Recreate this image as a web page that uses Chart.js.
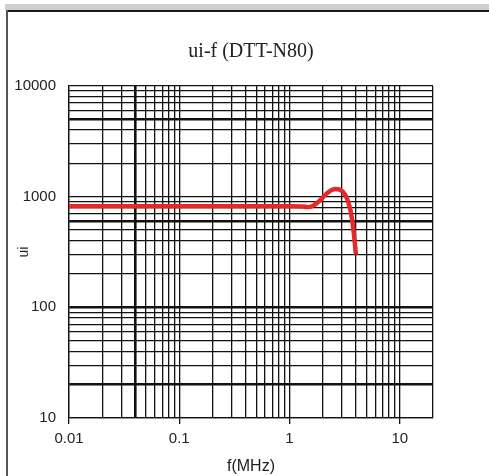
<!DOCTYPE html>
<html>
<head>
<meta charset="utf-8">
<script src="https://cdn.jsdelivr.net/npm/chart.js@4/dist/chart.umd.min.js"></script>
<style>
	html, body { margin: 0; padding: 0; background: #fff; }
	#wrap { position: relative; width: 489px; height: 476px; overflow: hidden; }
	#topBar { position: absolute; left: 5px; top: 4px; width: 484px; height: 6px; background: #cfcfcf; }
	#topLine { position: absolute; left: 6px; top: 10px; width: 483px; height: 2px; background: #1a1a1a; }
	#leftLine { position: absolute; left: 6px; top: 10px; width: 2px; height: 466px; background: #555; }
	canvas { position: absolute; left: 0; top: 0; }
</style>
</head>
<body>
<div id="wrap">
	<canvas id="myChart" width="489" height="476"></canvas>
	<div id="topBar"></div>
	<div id="topLine"></div>
	<div id="leftLine"></div>
</div>
<script>
/* ui-f (DTT-N80) */
var freqMHz = [0.01, 0.1, 1, 1.3, 1.5, 1.7, 1.9, 2.2, 2.6, 2.9, 3.2, 3.4, 3.6, 3.8, 4.0];
var uiValue = [820, 820, 820, 815, 805, 850, 930, 1080, 1170, 1150, 1040, 900, 720, 500, 300];

var xLabels = [0.01, 0.1, 1, 10];
var yLabels = [10, 100, 1000, 10000];
var xHeavy = [0.04];
var yHeavy = [20, 100, 600, 5000];

// 로그 눈금선 (1~9 x 10^n)
function logGrid(from, to) {
	var list = [];
	for (var d = from; d < to; d *= 10) {
		for (var k = 1; k < 10; k++) {
			list.push(Math.round(k * d * 1e6) / 1e6);
		}
	}
	return list;
}
var xGrid = logGrid(0.01, 10).concat([10, 20]);
var yGrid = logGrid(10, 10000).concat([10000]);

function near(list, v) {
	for (var i = 0; i < list.length; i++) {
		if (Math.abs(list[i] - v) < list[i] * 1e-6) return true;
	}
	return false;
}

var points = freqMHz.map(function (f, i) {
	return { x: f, y: uiValue[i] };
});

var ctx = document.getElementById('myChart');
var myChart = new Chart(ctx, {
	type: 'line',
	data: {
		datasets: [{
			data: points,
			borderColor: '#e32a2a',
			borderWidth: 4.5,
			pointRadius: 0,
			tension: 0.4,
			cubicInterpolationMode: 'monotone',
			fill: false
		}]
	},
	options: {
		responsive: false,
		animation: false,
		layout: {
			padding: { left: 8, right: 56, top: 0, bottom: 0 }
		},
		plugins: {
			legend: { display: false },
			tooltip: { enabled: false },
			title: {
				display: true,
				fullSize: false,
				text: 'ui-f (DTT-N80)',
				color: '#222',
				font: { family: "'Liberation Serif', serif", size: 20, weight: 'normal' },
				padding: { top: 40, bottom: 22 }
			}
		},
		scales: {
			x: {
				type: 'logarithmic',
				min: 0.01,
				max: 20,
				afterBuildTicks: function (scale) {
					scale.ticks = xGrid.map(function (v) { return { value: v }; });
				},
				afterFit: function (scale) { scale.height = 58; },
				ticks: {
					autoSkip: false,
					maxRotation: 0,
					minRotation: 0,
					padding: 6,
					color: '#222',
					font: { family: "'Liberation Sans', sans-serif", size: 15 },
					callback: function (value) {
						return near(xLabels, value) ? String(value) : '';
					}
				},
				grid: {
					drawTicks: true,
					tickLength: 6,
					color: '#111',
					lineWidth: function (c) {
						return c.tick && near(xHeavy, c.tick.value) ? 2.6 : 1.3;
					},
					tickColor: function (c) {
						return c.tick && near(xLabels, c.tick.value) ? '#111' : 'rgba(0,0,0,0)';
					},
					tickWidth: 1.3
				},
				border: { display: true, color: '#111', width: 1.3 },
				title: {
					display: true,
					text: 'f(MHz)',
					color: '#222',
					font: { family: "'Liberation Sans', sans-serif", size: 16 },
					padding: { top: 2, bottom: 0 }
				}
			},
			y: {
				type: 'logarithmic',
				min: 10,
				max: 10000,
				afterBuildTicks: function (scale) {
					scale.ticks = yGrid.map(function (v) { return { value: v }; });
				},
				afterFit: function (scale) { scale.width = 61; },
				ticks: {
					autoSkip: false,
					padding: 13,
					color: '#222',
					font: { family: "'Liberation Sans', sans-serif", size: 15 },
					callback: function (value) {
						return near(yLabels, value) ? String(value) : '';
					}
				},
				grid: {
					drawTicks: false,
					color: '#111',
					lineWidth: function (c) {
						return c.tick && near(yHeavy, c.tick.value) ? 2.6 : 1.3;
					}
				},
				border: { display: true, color: '#111', width: 1.3 },
				title: {
					display: true,
					text: 'ui',
					color: '#222',
					font: { family: "'Liberation Sans', sans-serif", size: 14 },
					padding: { top: 8, bottom: 0 }
				}
			}
		}
	}
});
</script>
</body>
</html>
